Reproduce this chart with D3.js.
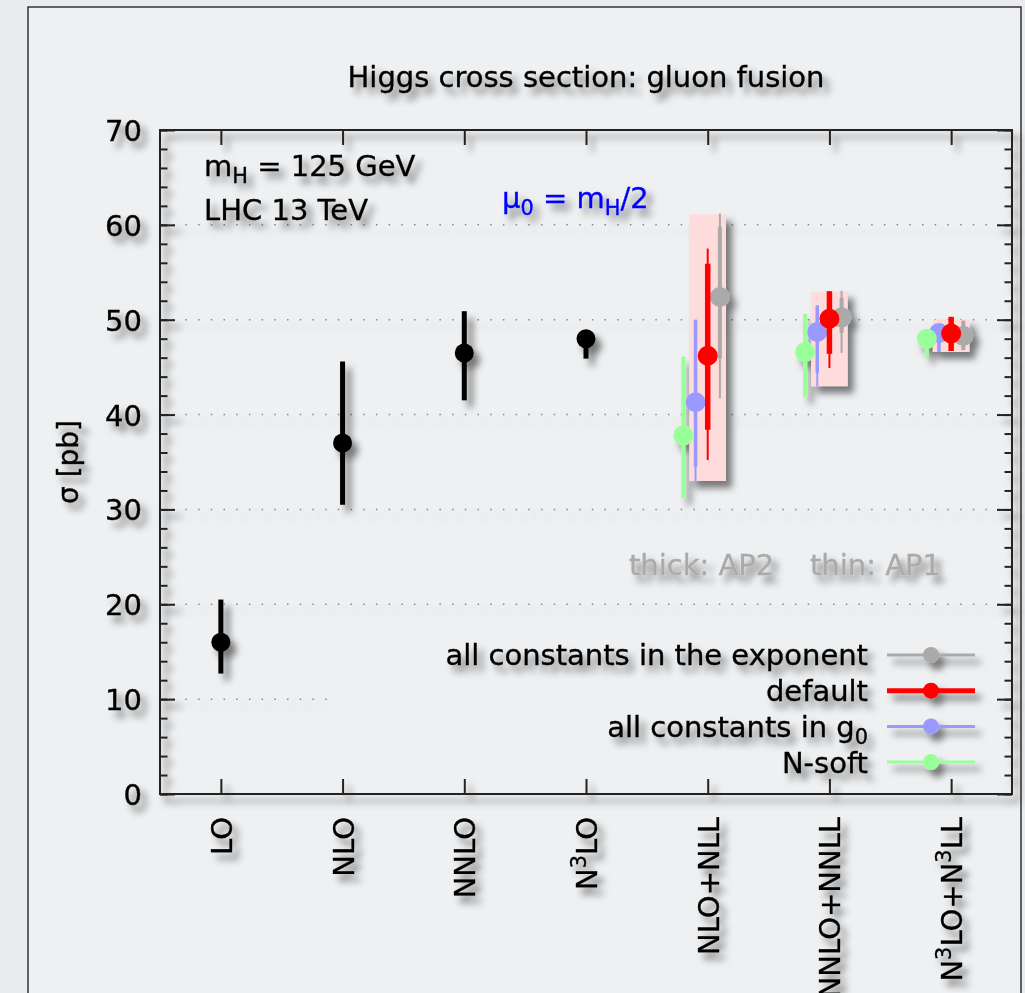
<!DOCTYPE html>
<html>
<head>
<meta charset="utf-8">
<script src="https://cdn.jsdelivr.net/npm/d3@7"></script>
<style>
  body { margin: 0; background: #e9ebee; }
  svg { display: block; font-family: "DejaVu Sans", sans-serif; }
  svg text { stroke: currentColor; stroke-width: 0.35px; }
</style>
</head>
<body>
<div id="wrapper"></div>
<script>
// categories along the x axis
const categories = ["LO", "NLO", "NNLO", "N3LO", "NLO+NLL", "NNLO+NNLL", "N3LO+N3LL"]

// fixed-order results (pb)
const fixedCentral = [16.0, 37.0, 46.5, 48.0]
const fixedLow = [12.7, 30.5, 41.5, 45.9]
const fixedHigh = [20.5, 45.6, 50.9, 48.6]

// resummed: pink envelope per order
const bandLow = [33.0, 43.0, 46.6]
const bandHigh = [61.1, 52.95, 50.0]

// resummed series (NLO+NLL, NNLO+NNLL, N3LO+N3LL)
const seriesNames = ["all constants in the exponent", "default", "all constants in g0", "N-soft"]
const expCentral = [52.4, 50.25, 48.3]
const expThickLow = [45.9, 48.6, 46.8]
const expThickHigh = [59.8, 52.3, 49.9]
const expThinLow = [41.7, 46.5, 46.8]
const expThinHigh = [61.2, 53.05, 49.9]

const defCentral = [46.2, 50.1, 48.55]
const defThickLow = [38.4, 46.4, 46.7]
const defThickHigh = [55.9, 53.0, 50.3]
const defThinLow = [35.2, 44.9, 46.7]
const defThinHigh = [57.5, 53.0, 50.3]

const g0Central = [41.3, 48.7, 48.6]
const g0ThickLow = [34.5, 44.4, 46.6]
const g0ThickHigh = [50.0, 51.5, 48.9]
const g0ThinLow = [32.9, 43.0, 46.6]
const g0ThinHigh = [50.0, 51.5, 48.9]

const nsCentral = [37.8, 46.6, 48.0]
const nsThickLow = [31.2, 41.9, 46.1]
const nsThickHigh = [46.1, 50.6, 48.4]
const nsThinLow = [31.2, 41.9, 46.1]
const nsThinHigh = [46.1, 50.6, 48.4]

const yTicks = [0, 10, 20, 30, 40, 50, 60, 70]

// styling of each resummed series (drawing order)
const seriesStyle = [
  { name: seriesNames[0], color: "#aaaaaa", offset: 0.1, thick: 4, c: expCentral, tl: expThickLow, th: expThickHigh, nl: expThinLow, nh: expThinHigh },
  { name: seriesNames[2], color: "#9999ff", offset: -0.1, thick: 3.5, c: g0Central, tl: g0ThickLow, th: g0ThickHigh, nl: g0ThinLow, nh: g0ThinHigh },
  { name: seriesNames[1], color: "#ff0000", offset: 0, thick: 5.5, c: defCentral, tl: defThickLow, th: defThickHigh, nl: defThinLow, nh: defThinHigh },
  { name: seriesNames[3], color: "#99ff99", offset: -0.2, thick: 4, c: nsCentral, tl: nsThickLow, th: nsThickHigh, nl: nsThinLow, nh: nsThinHigh },
]
const legendOrder = [0, 2, 1, 3]

const width = 1025
const height = 993
const dimensions = {
  left: 160, right: 1012, top: 130, bottom: 794,
}

const svg = d3.select("#wrapper")
  .append("svg")
  .attr("width", width)
  .attr("height", height)

const defs = svg.append("defs")
defs.append("filter")
  .attr("id", "shadow")
  .attr("x", "-20%").attr("y", "-20%")
  .attr("width", "140%").attr("height", "140%")
  .append("feDropShadow")
  .attr("dx", 6).attr("dy", 7)
  .attr("stdDeviation", 3.5)
  .attr("flood-color", "#000")
  .attr("flood-opacity", 0.5)

// slide frame
svg.append("rect")
  .attr("x", 28).attr("y", 7)
  .attr("width", 993).attr("height", 1000)
  .attr("fill", "#eef0f2")
  .attr("stroke", "#333")
  .attr("stroke-width", 1.5)

const xScale = d3.scaleLinear()
  .domain([0.5, categories.length + 0.5])
  .range([dimensions.left, dimensions.right])
const yScale = d3.scaleLinear()
  .domain([0, 70])
  .range([dimensions.bottom, dimensions.top])

const FS = 29

// text with sub/superscripts, given as [text, kind] pieces
function rich(text, parts, size) {
  let shift = 0
  parts.forEach(([t, kind]) => {
    const target = kind === "sub" ? size * 0.25 : kind === "sup" ? -size * 0.38 : 0
    text.append("tspan")
      .attr("dy", target - shift)
      .attr("font-size", kind ? size * 0.72 : size)
      .text(t)
    shift = target
  })
}

function catParts(label) {
  if (label === "N3LO") return [["N"], ["3", "sup"], ["LO"]]
  if (label === "N3LO+N3LL") return [["N"], ["3", "sup"], ["LO+N"], ["3", "sup"], ["LL"]]
  return [[label]]
}

// gridlines (behind the legend box)
const gridLayer = svg.append("g").attr("filter", "url(#shadow)")
gridLayer.selectAll("line")
  .data(yTicks.filter(d => d > 0 && d < 70))
  .join("line")
  .attr("x1", dimensions.left).attr("x2", dimensions.right)
  .attr("y1", d => yScale(d)).attr("y2", d => yScale(d))
  .attr("stroke", "#888")
  .attr("stroke-width", 1.5)
  .attr("stroke-dasharray", "1.5,11.2")

// legend background hides the gridline
svg.append("rect")
  .attr("x", 328).attr("y", 628)
  .attr("width", 672).attr("height", 155)
  .attr("fill", "#eef0f2")

const chart = svg.append("g").attr("filter", "url(#shadow)")

// title and annotations
chart.append("text")
  .attr("x", 586).attr("y", 87)
  .attr("text-anchor", "middle")
  .attr("font-size", FS)
  .text("Higgs cross section: gluon fusion")

rich(chart.append("text").attr("x", 204).attr("y", 176).attr("font-size", FS),
  [["m"], ["H", "sub"], [" = 125 GeV"]], FS)
chart.append("text")
  .attr("x", 204).attr("y", 220)
  .attr("font-size", FS)
  .text("LHC 13 TeV")
rich(chart.append("text").attr("x", 502).attr("y", 208).attr("font-size", FS)
  .attr("fill", "#0000ff").style("color", "#0000ff"),
  [["μ"], ["0", "sub"], [" = m"], ["H", "sub"], ["/2"]], FS)

chart.append("text")
  .attr("x", 629).attr("y", 575)
  .attr("font-size", FS).attr("fill", "#aaaaaa").style("color", "#aaaaaa")
  .text("thick: AP2")
chart.append("text")
  .attr("x", 810).attr("y", 575)
  .attr("font-size", FS).attr("fill", "#aaaaaa").style("color", "#aaaaaa")
  .text("thin: AP1")

// y axis label
chart.append("text")
  .attr("transform", `translate(78, ${(dimensions.top + dimensions.bottom) / 2}) rotate(-90)`)
  .attr("text-anchor", "middle")
  .attr("font-size", 28)
  .text("σ [pb]")

// axes
const axes = chart.append("g")
const leftAxis = axes.append("g")
  .attr("transform", `translate(${dimensions.left},0)`)
  .call(d3.axisLeft(yScale).tickValues(yTicks).tickSize(-15).tickPadding(18))
leftAxis.append("g")
  .call(d3.axisLeft(yScale).tickValues(d3.range(0, 71, 2)).tickSize(-7.5).tickFormat(""))
const rightAxis = axes.append("g")
  .attr("transform", `translate(${dimensions.right},0)`)
  .call(d3.axisRight(yScale).tickValues(yTicks).tickSize(-15).tickFormat(""))
rightAxis.append("g")
  .call(d3.axisRight(yScale).tickValues(d3.range(0, 71, 2)).tickSize(-7.5).tickFormat(""))
const catValues = categories.map((d, i) => i + 1)
axes.append("g")
  .attr("transform", `translate(0,${dimensions.top})`)
  .call(d3.axisTop(xScale).tickValues(catValues).tickSize(-15).tickFormat(""))
const bottomAxis = axes.append("g")
  .attr("transform", `translate(0,${dimensions.bottom})`)
  .call(d3.axisBottom(xScale).tickValues(catValues).tickSize(-15).tickFormat(""))

axes.selectAll(".domain").remove()
axes.selectAll("line").attr("stroke", "#222").attr("stroke-width", 2)
axes.append("rect")
  .attr("x", dimensions.left).attr("y", dimensions.top)
  .attr("width", dimensions.right - dimensions.left)
  .attr("height", dimensions.bottom - dimensions.top)
  .attr("fill", "none")
  .attr("stroke", "#222")
  .attr("stroke-width", 2)

leftAxis.selectAll(".tick text")
  .attr("font-size", FS)
  .attr("font-family", "DejaVu Sans")
  .attr("fill", "#000")
  .style("color", "#000")
  .attr("dy", "0.36em")

bottomAxis.selectAll(".tick").each(function (d) {
  const t = d3.select(this).select("text")
    .attr("transform", "rotate(-90)")
    .attr("x", -23).attr("y", FS * 0.36).attr("dy", null)
    .attr("text-anchor", "end")
    .attr("font-size", FS)
    .attr("font-family", "DejaVu Sans")
    .attr("fill", "#000")
    .style("color", "#000")
    .text(null)
  rich(t, catParts(categories[d - 1]), FS)
})

// fixed-order points
const fixedIdx = fixedCentral.map((d, i) => i)
chart.append("g").selectAll("line")
  .data(fixedIdx)
  .join("line")
  .attr("x1", i => xScale(i + 1)).attr("x2", i => xScale(i + 1))
  .attr("y1", i => yScale(fixedLow[i])).attr("y2", i => yScale(fixedHigh[i]))
  .attr("stroke", "#000")
  .attr("stroke-width", 5)
chart.append("g").selectAll("circle")
  .data(fixedIdx)
  .join("circle")
  .attr("cx", i => xScale(i + 1))
  .attr("cy", i => yScale(fixedCentral[i]))
  .attr("r", 9.5)
  .attr("fill", "#000")

// resummed envelopes
const resIdx = bandLow.map((d, i) => i)
chart.append("g").selectAll("rect")
  .data(resIdx)
  .join("rect")
  .attr("x", i => xScale(fixedCentral.length + 1 + i - 0.15))
  .attr("width", xScale(0.3) - xScale(0))
  .attr("y", i => yScale(bandHigh[i]))
  .attr("height", i => yScale(bandLow[i]) - yScale(bandHigh[i]))
  .attr("fill", "#ffdcdc")

seriesStyle.forEach(s => {
  const g = chart.append("g")
  const cx = i => xScale(fixedCentral.length + 1 + i + s.offset)
  g.selectAll(".thin")
    .data(resIdx)
    .join("line")
    .attr("class", "thin")
    .attr("x1", cx).attr("x2", cx)
    .attr("y1", i => yScale(s.nl[i])).attr("y2", i => yScale(s.nh[i]))
    .attr("stroke", s.color)
    .attr("stroke-width", 2)
  g.selectAll(".thick")
    .data(resIdx)
    .join("line")
    .attr("class", "thick")
    .attr("x1", cx).attr("x2", cx)
    .attr("y1", i => yScale(s.tl[i])).attr("y2", i => yScale(s.th[i]))
    .attr("stroke", s.color)
    .attr("stroke-width", s.thick)
  g.selectAll("circle")
    .data(resIdx)
    .join("circle")
    .attr("cx", cx)
    .attr("cy", i => yScale(s.c[i]))
    .attr("r", 10)
    .attr("fill", s.color)
})

// legend
const legend = chart.append("g")
legendOrder.forEach((k, row) => {
  const s = seriesStyle[k]
  const y = 655 + row * 35.7
  const parts = s.name === "all constants in g0" ? [["all constants in g"], ["0", "sub"]] : [[s.name]]
  rich(legend.append("text")
    .attr("x", 868).attr("y", y + FS * 0.36)
    .attr("text-anchor", "end")
    .attr("font-size", FS), parts, FS)
  legend.append("line")
    .attr("x1", 887).attr("x2", 975)
    .attr("y1", y).attr("y2", y)
    .attr("stroke", s.color)
    .attr("stroke-width", s.name === "default" ? 5 : 3)
  legend.append("circle")
    .attr("cx", 931).attr("cy", y)
    .attr("r", 8)
    .attr("fill", s.color)
})
</script>
</body>
</html>
